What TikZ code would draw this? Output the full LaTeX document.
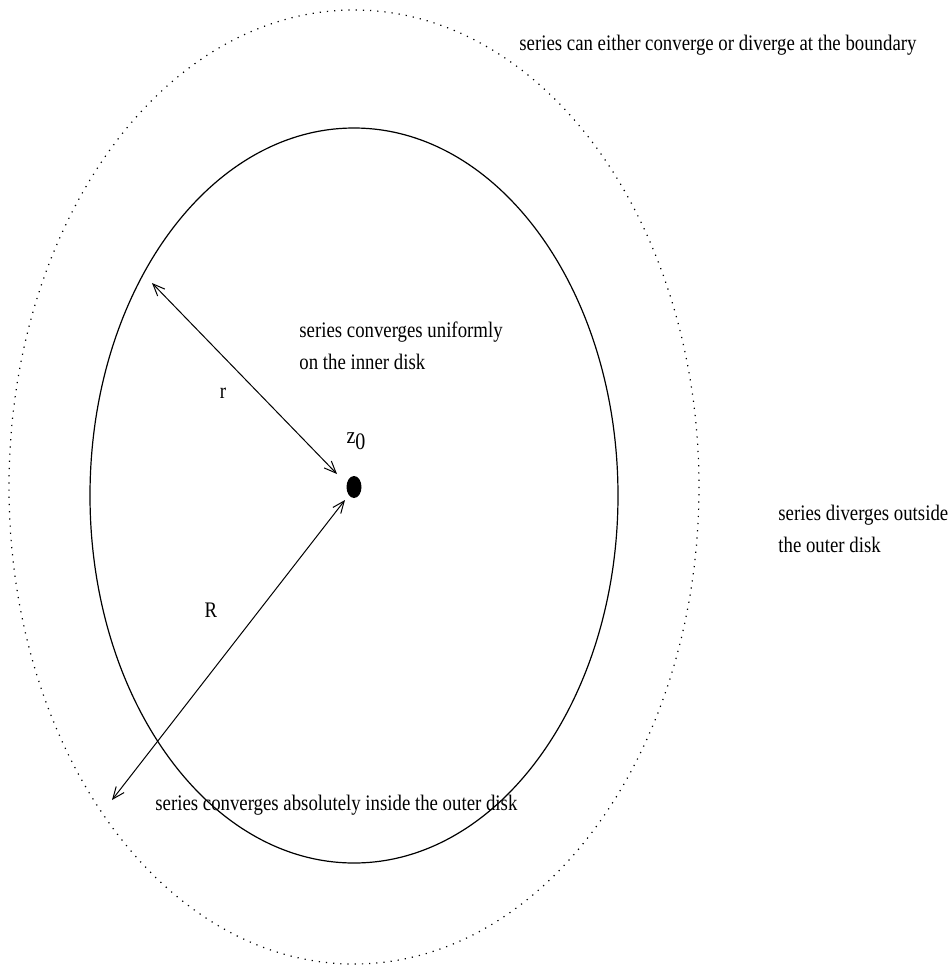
\documentclass[tikz,border=0pt]{standalone}
\usepackage{fontspec}
\setmainfont{Liberation Serif}
\usepackage{graphicx}
\usepackage{tikz}
\usetikzlibrary{positioning, arrows.meta, shapes.geometric}

% teks sedikit dipanjangkan ke atas
\newcommand{\tallline}[1]{\scalebox{1}[1.18]{#1}}

\begin{document}
\begin{tikzpicture}[
    x=0.5pt, y=-0.5pt,
    % Gaya untuk teks keterangan
    note_text/.style={
        anchor=west,
        align=left,
        inner sep=0pt,
        font=\fontsize{9.4}{16}\selectfont
    },
    % Gaya untuk batas lingkaran
    outer_rim/.style={
        draw=black,
        line width=0.6pt,
        dash pattern=on 0.6pt off 3pt
    },
    inner_rim/.style={
        draw=black,
        line width=0.6pt
    },
    % Gaya untuk panah radius
    radius_arrow/.style={
        {Straight Barb[length=6pt,width=5pt]}-{Straight Barb[length=6pt,width=5pt]},
        line width=0.5pt,
        draw=black
    }
]
\useasboundingbox (0,0) rectangle (952,966);

% =====================================================================
% DEFINISI NODE / BLOK
% =====================================================================
\coordinate (centre) at (354,487);
\node (Z0) [fill=black, ellipse, minimum width=7.5pt, minimum height=11pt,
    inner sep=0pt] at (centre) {};
\node (Z0lbl) [note_text, anchor=center] at (356,441)
    {\tallline{\fontsize{10}{12}\selectfont z\raisebox{-0.5ex}{0}}};

\draw [outer_rim] (354,487) ellipse [x radius=345, y radius=477];
\draw [inner_rim] (354,495.5) ellipse [x radius=264, y radius=367.5];

\coordinate (rEnd) at (152,283);
\coordinate (REnd) at (112,800);

\node (rlbl) [note_text, anchor=center] at (223,393) {\tallline{r}};
\node (Rlbl) [note_text, anchor=center] at (211,610) {\tallline{R}};

\node (boundary) [note_text] at (519,45)
    {\tallline{series can either converge or diverge at the boundary}};
\node (uniform) [note_text] at (299,346)
    {\tallline{series converges uniformly}\\\tallline{on the inner disk}};
\node (diverge) [note_text] at (778,529)
    {\tallline{series diverges outside}\\\tallline{the outer disk}};
\node (absolute) [note_text] at (155,805)
    {\tallline{series converges absolutely inside the outer disk}};

% =====================================================================
% KONEKSI PANAH / ALUR
% =====================================================================
\draw [radius_arrow] (rEnd) -- ([shift={(-17,-13)}]Z0.center);
\draw [radius_arrow] (REnd) -- ([shift={(-9,13)}]Z0.center);

\end{tikzpicture}
\end{document}
